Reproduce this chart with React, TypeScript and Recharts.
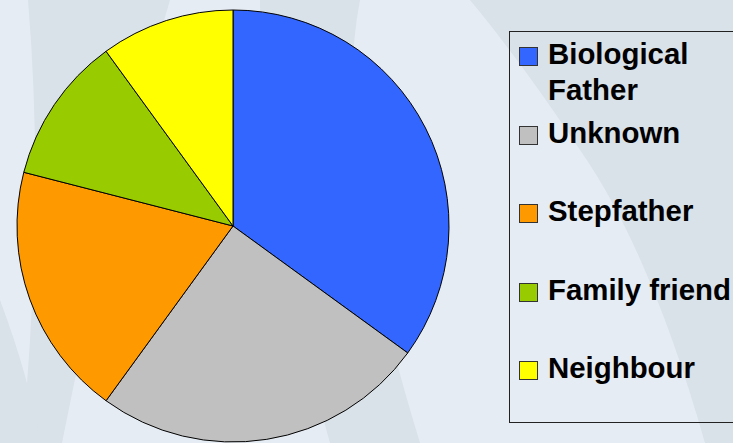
import { PieChart, Pie, Cell, Legend } from "recharts";

// who the abuser was — share of cases (%)
const categories = ["Biological Father", "Unknown", "Stepfather", "Family friend", "Neighbour"];
const shares = [35, 25, 19, 11, 10];
const colors = ["#3366ff", "#c0c0c0", "#ff9900", "#99cc00", "#ffff00"];

const data = categories.map((name, i) => ({ name, value: shares[i] }));

const W = 733;
const H = 443;

// recharts sorts legend payload by name, so keep the original order here
function LegendBox() {
  return (
    <div
      style={{
        boxSizing: "border-box",
        width: 240,
        height: 392,
        border: "1px solid #222",
        borderRight: "none",
        paddingTop: 14,
        paddingLeft: 9,
        fontFamily: "'Liberation Sans', Arial, sans-serif",
        fontWeight: "bold",
        fontSize: 29.4,
        color: "#000",
      }}
    >
      {categories.map((name, i) => (
        <div key={name} style={{ display: "flex", alignItems: "flex-start", height: 78.5 }}>
          <span
            style={{
              display: "inline-block",
              width: 17,
              height: 17,
              marginTop: 1,
              marginRight: 10,
              background: colors[i],
              border: "1px solid #333",
              flexShrink: 0,
            }}
          />
          <span style={{ lineHeight: "36px", marginTop: -10, width: 170, whiteSpace: i === 0 ? "normal" : "nowrap" }}>
            {name}
          </span>
        </div>
      ))}
    </div>
  );
}

export default function App() {
  return (
    <div
      style={{
        position: "absolute",
        left: 0,
        top: 0,
        width: W,
        height: H,
        overflow: "hidden",
        background: "#e6ecf3",
      }}
    >
      <svg width={W} height={H} style={{ position: "absolute", left: 0, top: 0 }}>
        <path d="M28,0 L170,0 Q110,200 62,443 L22,443 Q45,200 28,0 Z" fill="#d9e1e9" />
        <path d="M260,0 L360,0 Q330,150 420,443 L330,443 Q260,200 260,0 Z" fill="#d9e1e9" />
        <path d="M470,0 L733,0 L733,443 L705,443 Q650,250 580,150 Q520,60 470,0 Z" fill="#d9e1e9" />
        <path d="M0,300 Q30,380 40,443 L0,443 Z" fill="#d9e1e9" />
      </svg>
      <PieChart width={W} height={H} margin={{ top: 0, right: 0, bottom: 0, left: 0 }}>
        <Pie
          data={data}
          dataKey="value"
          nameKey="name"
          cx={233}
          cy={226}
          outerRadius={216}
          startAngle={90}
          endAngle={-270}
          stroke="#000"
          strokeWidth={1}
          isAnimationActive={false}
        >
          {data.map((d, i) => (
            <Cell key={d.name} fill={colors[i]} />
          ))}
        </Pie>
        <Legend
          content={<LegendBox />}
          wrapperStyle={{ position: "absolute", left: 509, top: 31, width: 240, height: 392 }}
        />
      </PieChart>
    </div>
  );
}
